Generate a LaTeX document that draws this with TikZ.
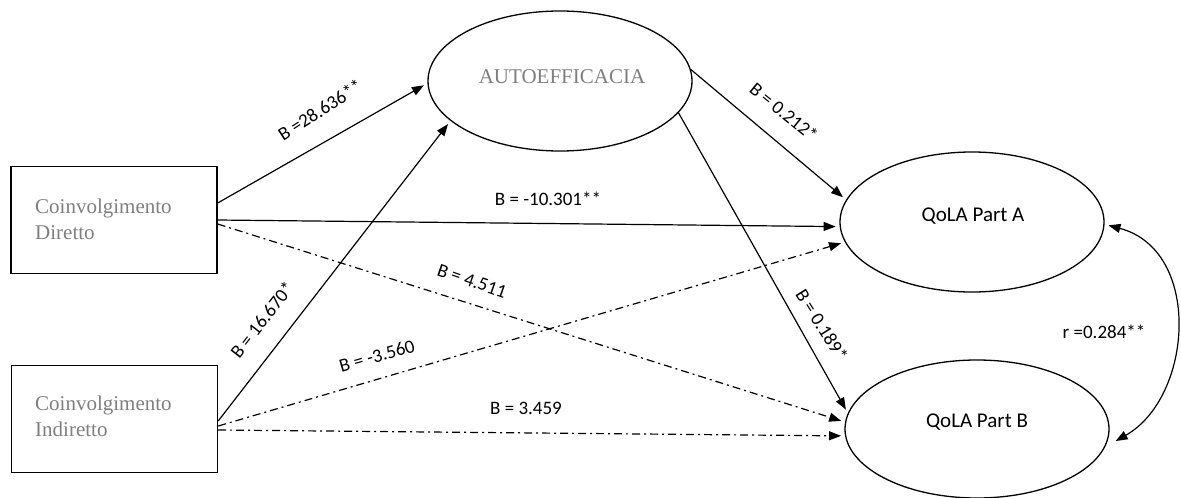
\documentclass[tikz,border=0pt]{standalone}
\usepackage{fontspec}
\setmainfont{Liberation Serif}
\newfontfamily\calib{Carlito}
\usetikzlibrary{arrows.meta,shapes.geometric,calc}
\definecolor{txtgray}{RGB}{127,127,127}
\begin{document}
\begin{tikzpicture}[x=1pt,y=-1pt,
  varbox/.style={draw, line width=1.4pt, rectangle, inner sep=0pt, minimum width=206pt, minimum height=107pt},
  latent/.style={draw, line width=1.3pt, ellipse, inner sep=0pt, minimum width=264pt, minimum height=140pt},
  serif/.style={text=txtgray, font=\fontsize{21}{26}\selectfont, inner sep=0pt},
  sans/.style={font=\calib\fontsize{21}{25}\selectfont, inner sep=0pt},
  coef/.style={font=\calib\fontsize{19}{22}\selectfont, inner sep=1pt},
  arrowline/.style={line width=1.2pt, -{Triangle[length=12pt,width=9pt]}, shorten >=4pt},
  dashdot/.style={arrowline, dash pattern=on 8pt off 4pt on 2pt off 4pt}]
\useasboundingbox (0,0) rectangle (1181,498);

% observed variables
\node[varbox] (dir) at (114,220) {};
\node[serif, anchor=north west, align=left] (dirt) at (35,198.5) {Coinvolgimento\\Diretto};
\node[varbox] (ind) at (114.5,419) {};
\node[serif, anchor=north west, align=left] (indt) at (35,395.5) {Coinvolgimento\\Indiretto};

% latent variables
\node[latent] (auto) at (560,81) {};
\node[serif, anchor=base] (autot) at (562,83) {AUTOEFFICACIA};
\node[latent] (qa) at (972,222) {};
\node[sans, anchor=base] (qat) at (973,221) {QoLA Part A};
\node[latent, minimum height=138pt] (qb) at (977,429) {};
\node[sans, anchor=base] (qbt) at (977,427) {QoLA Part B};

% paths
\draw[arrowline] ([yshift=17pt]dir.east) -- (auto.181);
\draw[arrowline] ([yshift=-2pt]ind.east) -- (auto.200);
\draw[arrowline] (dir.east) -- (qa.182);
\draw[arrowline] (auto.5) -- (qa.170);
\draw[arrowline] (auto.-15) -- (qb.173);
\draw[dashdot] ([yshift=-4pt]dir.east) -- (qb.177);
\draw[dashdot] ([yshift=-7pt]ind.east) -- (qa.189);
\draw[dashdot] ([yshift=-11pt]ind.east) -- (qb.183);
\draw[line width=1.2pt, {Triangle[length=12pt,width=9pt]}-{Triangle[length=12pt,width=9pt]}, shorten <=4pt, shorten >=12pt]
  (qa.-1) .. controls +(98,26) and +(88,-50) .. (qb.-8);

% coefficients
\node[coef, rotate=33] (l1) at (320,110) {B =28.636**};
\node[coef, rotate=52] (l2) at (262,320) {B = 16.670*};
\node[coef] (l3) at (548,199) {B = -10.301**};
\node[coef, rotate=-39] (l4) at (784,112) {B = 0.212*};
\node[coef, rotate=-58] (l5) at (822,325) {B = 0.189*};
\node[coef, rotate=-19] (l6) at (472,281) {B = 4.511};
\node[coef, rotate=16] (l7) at (377,356) {B = -3.560};
\node[coef] (l8) at (526,408) {B = 3.459};
\node[coef] (l9) at (1104,332) {r =0.284**};
\end{tikzpicture}
\end{document}
